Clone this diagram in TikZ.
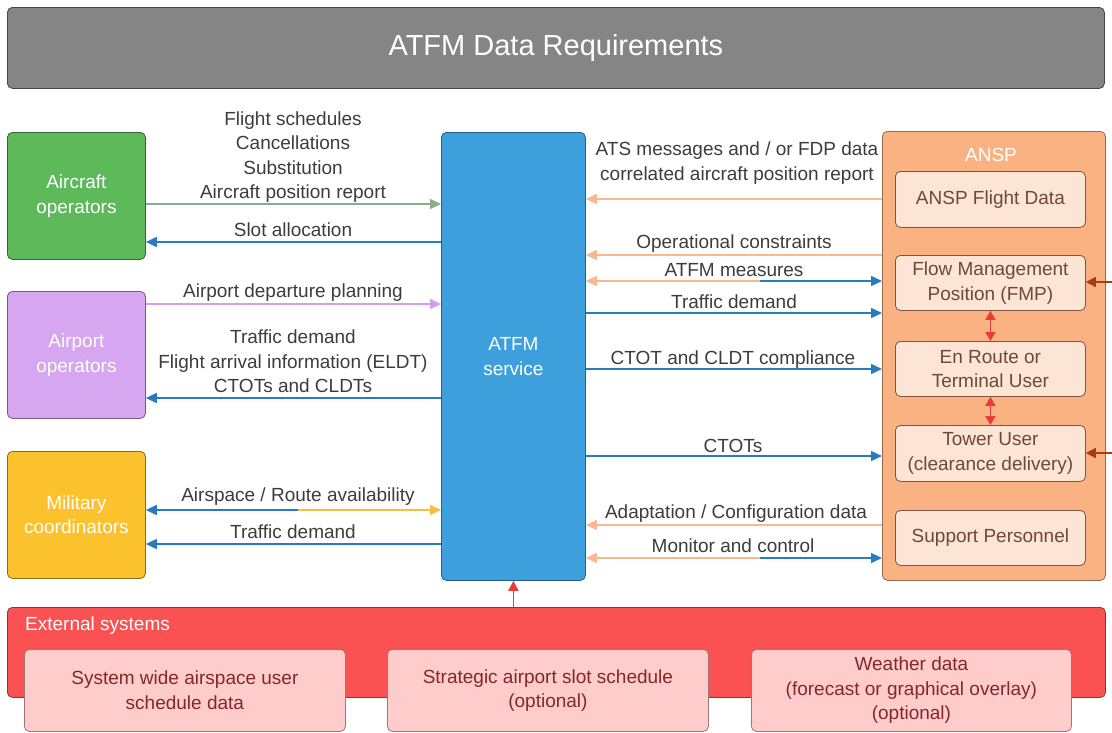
\documentclass[tikz,border=0pt]{standalone}
\usepackage{fontspec}
\setmainfont{Liberation Sans}
\usetikzlibrary{arrows.meta}
\definecolor{titlegray}{RGB}{133,133,133}
\definecolor{titleborder}{RGB}{70,70,70}
\definecolor{acgreen}{RGB}{94,185,91}
\definecolor{appurple}{RGB}{215,166,240}
\definecolor{milyellow}{RGB}{252,194,46}
\definecolor{atfmblue}{RGB}{61,159,220}
\definecolor{anspor}{RGB}{250,178,130}
\definecolor{subpeach}{RGB}{253,229,213}
\definecolor{extred}{RGB}{250,82,82}
\definecolor{extsub}{RGB}{255,204,204}
\definecolor{lblue}{RGB}{40,124,190}
\definecolor{lorange}{RGB}{248,184,146}
\definecolor{lgreen}{RGB}{140,170,140}
\definecolor{lpurple}{RGB}{213,156,240}
\definecolor{lyellow}{RGB}{248,190,64}
\definecolor{txtgray}{RGB}{60,60,60}
\definecolor{ansptxt}{RGB}{110,72,56}
\definecolor{exttxt}{RGB}{130,40,40}
\definecolor{redarr}{RGB}{232,60,60}
\definecolor{brownarr}{RGB}{170,60,20}
\newcommand\lblfont{\fontsize{19}{24.5}\selectfont}
\newcommand\ttlfont{\fontsize{29}{33}\selectfont}
\begin{document}
\begin{tikzpicture}[x=1pt,y=-1pt,
  box/.style={draw, rounded corners=5pt, line width=0.8pt, inner sep=0pt, anchor=north west, align=center, font=\lblfont},
  sidebox/.style={box, text=white, minimum width=138pt, minimum height=127pt},
  anspsub/.style={box, fill=subpeach, draw={rgb,255:red,125;green,85;blue,65}, text=ansptxt, minimum width=190pt, minimum height=55pt},
  extbox/.style={box, fill=extsub, draw={rgb,255:red,165;green,115;blue,115}, text=exttxt, minimum width=321pt, minimum height=82pt},
  lbl/.style={font=\lblfont, text=txtgray, align=center, inner sep=0pt, anchor=south, text depth=4pt},
  arr/.style={line width=1.5pt, -{Triangle[length=11pt,width=10pt]}},
  bluearr/.style={arr, draw=lblue, fill=lblue},
  orarr/.style={arr, draw=lorange, fill=lorange},
  grarr/.style={arr, draw=lgreen, fill=lgreen},
  puarr/.style={arr, draw=lpurple, fill=lpurple},
  yearr/.style={arr, draw=lyellow, fill=lyellow},
  redarrow/.style={line width=1.5pt, draw=redarr, -{Triangle[length=10pt,width=10pt]}},
  reddbl/.style={line width=1.5pt, draw=redarr, {Triangle[length=9pt,width=10pt]}-{Triangle[length=9pt,width=10pt]}},
  brownarrow/.style={line width=1.5pt, draw=brownarr, -{Triangle[length=10pt,width=10pt]}}
]
\useasboundingbox (0,0) rectangle (1112,732);

% title
\node[box, fill=titlegray, draw=titleborder, text=white, font=\ttlfont, minimum width=1097pt, minimum height=81pt] (title) at (7,7) {ATFM Data Requirements};

% left boxes
\node[sidebox, fill=acgreen, draw=acgreen!55!black] (acop) at (7,132) {Aircraft\\operators};
\node[sidebox, fill=appurple, draw=appurple!55!black] (apop) at (7,291) {Airport\\operators};
\node[sidebox, fill=milyellow, draw=milyellow!55!black] (mil) at (7,451) {Military\\coordinators};

% ATFM service
\node[box, fill=atfmblue, draw=atfmblue!60!black, text=white, minimum width=144pt, minimum height=448pt] (atfm) at (441,132) {ATFM\\service};

% ANSP
\node[box, fill=anspor, draw=anspor!60!black, minimum width=223pt, minimum height=449pt] (ansp) at (882,131) {};
\node[font=\lblfont, text=white, inner sep=0pt] (anspl) at (991,155) {ANSP};
\node[anspsub, minimum height=56pt] (fd) at (895,171) {ANSP Flight Data};
\node[anspsub] (fmp) at (895,255) {Flow Management\\Position (FMP)};
\node[anspsub] (enr) at (895,341) {En Route or\\Terminal User};
\node[anspsub, minimum height=56pt] (twr) at (895,425) {Tower User\\(clearance delivery)};
\node[anspsub] (sup) at (895,510) {Support Personnel};

% external systems
\node[box, fill=extred, draw=extred!60!black, minimum width=1098pt, minimum height=90pt] (ext) at (7,607) {};
\node[font=\lblfont, text=white, inner sep=0pt, anchor=west] (extl) at (25,626) {External systems};
\node[extbox] (s1) at (24,649) {System wide airspace user\\schedule data};
\node[extbox] (s2) at (387,649) {Strategic airport slot schedule\\(optional)};
\node[extbox, minimum width=320pt] (s3) at (751,649) {Weather data\\(forecast or graphical overlay)\\(optional)};

% y levels
\coordinate (y204) at (0,204);
\coordinate (y242) at (0,242);
\coordinate (y304) at (0,304);
\coordinate (y398) at (0,398);
\coordinate (m510) at (298,510);
\coordinate (y544) at (0,544);
\coordinate (y199) at (0,199);
\coordinate (y255) at (0,255);
\coordinate (m281) at (760,281);
\coordinate (y313) at (0,313);
\coordinate (y369) at (0,369);
\coordinate (y456) at (0,456);
\coordinate (y525) at (0,525);
\coordinate (m558) at (760,558);
\coordinate (e282) at (1112,282);
\coordinate (e453) at (1112,453);

% left connectors
\draw[grarr] (acop.east |- y204) -- (atfm.west |- y204);
\draw[bluearr] (atfm.west |- y242) -- (acop.east |- y242);
\draw[puarr] (apop.east |- y304) -- (atfm.west |- y304);
\draw[bluearr] (atfm.west |- y398) -- (apop.east |- y398);
\draw[bluearr] (m510) -- (mil.east |- m510);
\draw[yearr] (m510) -- (atfm.west |- m510);
\draw[bluearr] (atfm.west |- y544) -- (mil.east |- y544);

% right connectors
\draw[orarr] (ansp.west |- y199) -- (atfm.east |- y199);
\draw[orarr] (ansp.west |- y255) -- (atfm.east |- y255);
\draw[orarr] (m281) -- (atfm.east |- m281);
\draw[bluearr] (m281) -- (ansp.west |- m281);
\draw[bluearr] (atfm.east |- y313) -- (ansp.west |- y313);
\draw[bluearr] (atfm.east |- y369) -- (ansp.west |- y369);
\draw[bluearr] (atfm.east |- y456) -- (ansp.west |- y456);
\draw[orarr] (ansp.west |- y525) -- (atfm.east |- y525);
\draw[orarr] (m558) -- (atfm.east |- m558);
\draw[bluearr] (m558) -- (ansp.west |- m558);

% inner ANSP and external connectors
\draw[reddbl] (fmp.south) -- (enr.north);
\draw[reddbl] (enr.south) -- (twr.north);
\draw[brownarrow] (e282) -- (fmp.east |- e282);
\draw[brownarrow] (e453) -- (twr.east |- e453);
\draw[redarrow] (ext.north -| atfm.south) -- (atfm.south);

% labels left
\node[lbl] (l1) at (293,203) {Flight schedules\\Cancellations\\Substitution\\Aircraft position report};
\node[lbl] (l2) at (293,241) {Slot allocation};
\node[lbl] (l3) at (293,302) {Airport departure planning};
\node[lbl] (l4) at (293,397) {Traffic demand\\Flight arrival information (ELDT)\\CTOTs and CLDTs};
\node[lbl] (l5) at (298,506) {Airspace / Route availability};
\node[lbl] (l6) at (293,543) {Traffic demand};

% labels right
\node[lbl] (r1) at (737,184.5) {ATS messages and / or FDP data\\correlated aircraft position report};
\node[lbl] (r2) at (734,252.5) {Operational constraints};
\node[lbl] (r3) at (734,281) {ATFM measures};
\node[lbl] (r4) at (734,312.5) {Traffic demand};
\node[lbl] (r5) at (733,368.5) {CTOT and CLDT compliance};
\node[lbl] (r6) at (733,456.5) {CTOTs};
\node[lbl] (r7) at (736,522.5) {Adaptation / Configuration data};
\node[lbl] (r8) at (733,556.5) {Monitor and control};
\end{tikzpicture}
\end{document}
